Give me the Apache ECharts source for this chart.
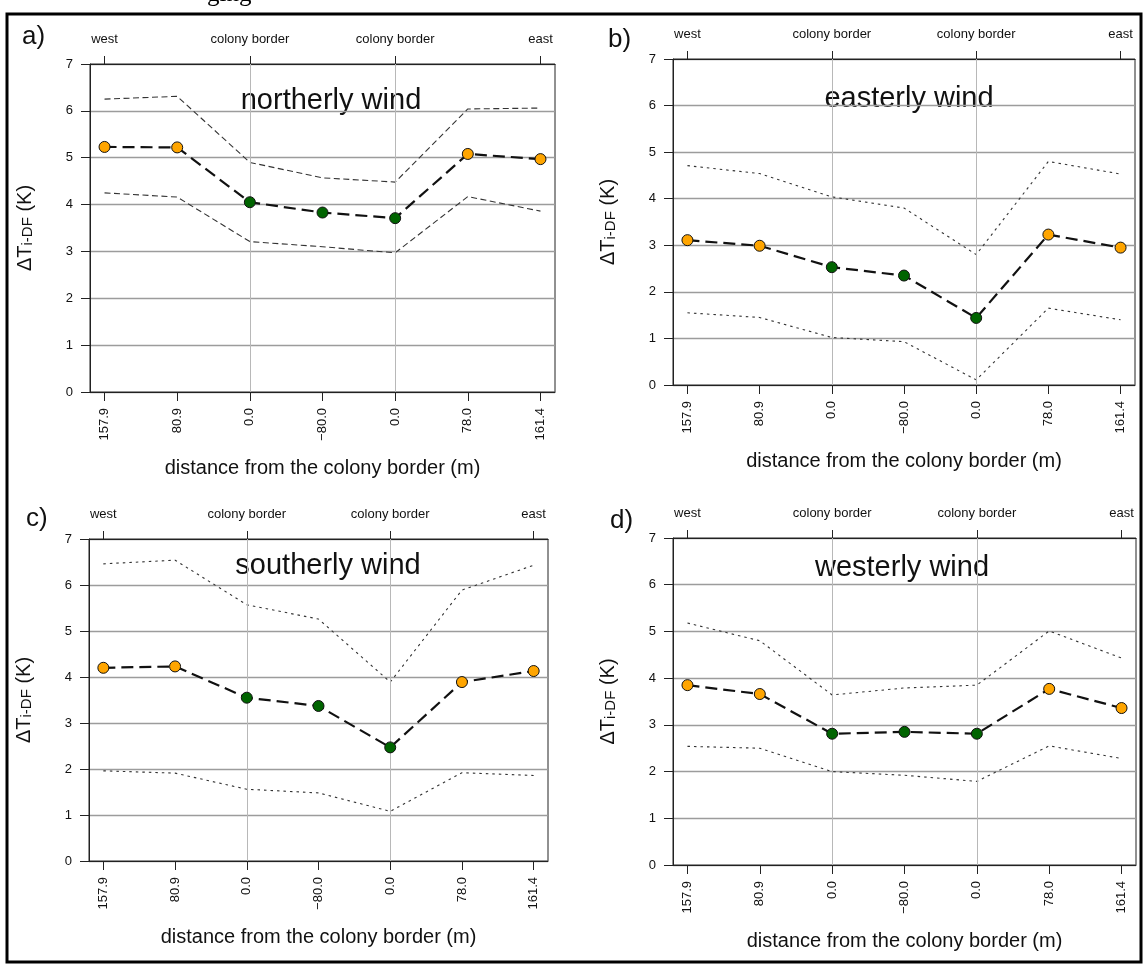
<!DOCTYPE html>
<html>
<head>
<meta charset="utf-8">
<script src="https://cdn.jsdelivr.net/npm/echarts@6/dist/echarts.min.js"></script>
<style>
  html, body { margin: 0; padding: 0; background: #fff; }
  #chart { width: 1143px; height: 968px; }
</style>
</head>
<body>
<div id="chart"></div>
<script>
// Transect positions: distance (m) from the colony border, west -> east
const distanceLabels = ['157.9', '80.9', '0.0', '\u221280.0', '0.0', '78.0', '161.4'];
const sideLabels = ['west', '', 'colony border', '', 'colony border', '', 'east'];
const insideColony = [false, false, true, true, true, false, false];

// Temperature difference ΔT i-DF (K): mean with upper / lower bounds
const northMean  = [5.23, 5.22, 4.05, 3.83, 3.71, 5.08, 4.97];
const northUpper = [6.25, 6.31, 4.90, 4.57, 4.48, 6.04, 6.06];
const northLower = [4.25, 4.16, 3.21, 3.10, 2.97, 4.17, 3.86];

const eastMean  = [3.11, 2.99, 2.53, 2.35, 1.44, 3.23, 2.95];
const eastUpper = [4.71, 4.54, 4.04, 3.80, 2.80, 4.80, 4.53];
const eastLower = [1.55, 1.45, 1.02, 0.93, 0.11, 1.65, 1.40];

const southMean  = [4.20, 4.23, 3.55, 3.37, 2.47, 3.89, 4.13];
const southUpper = [6.46, 6.54, 5.57, 5.26, 3.89, 5.89, 6.43];
const southLower = [1.96, 1.91, 1.56, 1.48, 1.08, 1.92, 1.86];

const westMean  = [3.85, 3.66, 2.81, 2.85, 2.81, 3.77, 3.36];
const westUpper = [5.18, 4.80, 3.64, 3.79, 3.85, 5.01, 4.43];
const westLower = [2.54, 2.50, 2.00, 1.92, 1.79, 2.55, 2.28];

const yTicks = [0, 1, 2, 3, 4, 5, 6, 7];

const panels = [
  { letter: 'a)', title: 'northerly wind', mean: northMean, upper: northUpper, lower: northLower, dash: [6, 3.5],
    grid: { left: 90, top: 64, width: 465, height: 328 }, titlePos: [331, 101], letterPos: [22, 37] },
  { letter: 'b)', title: 'easterly wind', mean: eastMean, upper: eastUpper, lower: eastLower, dash: [2.5, 4],
    grid: { left: 673, top: 59, width: 462, height: 326 }, titlePos: [909, 99], letterPos: [608, 40] },
  { letter: 'c)', title: 'southerly wind', mean: southMean, upper: southUpper, lower: southLower, dash: [2.5, 4],
    grid: { left: 89, top: 539, width: 459, height: 322 }, titlePos: [328, 566], letterPos: [26, 519] },
  { letter: 'd)', title: 'westerly wind', mean: westMean, upper: westUpper, lower: westLower, dash: [2.5, 4],
    grid: { left: 673, top: 538, width: 463, height: 327 }, titlePos: [902, 568], letterPos: [610, 521] }
];

const FONT = '"Liberation Sans", Arial, sans-serif';
const INK = '#111';
const positions = distanceLabels.map((_, i) => i);
const sideTicks = positions.filter(i => sideLabels[i] !== '');
const toPairs = arr => arr.map((v, i) => [i, v]);

const grids = [], xAxes = [], yAxes = [], series = [], graphics = [];

panels.forEach((p, k) => {
  grids.push(Object.assign({
    show: true, borderColor: '#222', borderWidth: 1, backgroundColor: 'transparent',
    containLabel: false, outerBoundsMode: 'none'
  }, p.grid));

  // bottom axis: distance labels
  xAxes.push({
    type: 'value', gridIndex: k, position: 'bottom', min: -0.2, max: 6.2,
    axisLine: { show: true, onZero: false, lineStyle: { color: '#222', width: 1 } },
    axisTick: { show: true, length: 9, customValues: positions, lineStyle: { color: '#222', width: 1 } },
    axisLabel: {
      show: true, customValues: positions, rotate: 90, margin: 16,
      formatter: v => distanceLabels[Math.round(v)],
      fontFamily: FONT, fontSize: 13, color: INK
    },
    splitLine: { show: false },
    name: 'distance from the colony border (m)', nameLocation: 'middle', nameGap: 66,
    nameTextStyle: { fontFamily: FONT, fontSize: 20, color: INK }
  });
  // top axis: west / colony border / east
  xAxes.push({
    type: 'value', gridIndex: k, position: 'top', min: -0.2, max: 6.2,
    axisLine: { show: true, onZero: false, lineStyle: { color: '#222', width: 1 } },
    axisTick: { show: true, length: 8, customValues: sideTicks, lineStyle: { color: '#222', width: 1 } },
    axisLabel: {
      show: true, customValues: sideTicks, margin: 18,
      formatter: v => sideLabels[Math.round(v)],
      fontFamily: FONT, fontSize: 13, color: INK
    },
    splitLine: { show: false }
  });

  yAxes.push({
    type: 'value', gridIndex: k, position: 'left', min: yTicks[0], max: yTicks[yTicks.length - 1], interval: 1,
    axisLine: { show: true, onZero: false, lineStyle: { color: '#222', width: 1 } },
    axisTick: { show: true, length: 9, lineStyle: { color: '#222', width: 1 } },
    axisLabel: { margin: 17, fontFamily: FONT, fontSize: 13, color: INK },
    splitLine: { show: true, lineStyle: { color: '#9c9c9c', width: 1.3 } },
    name: '{a|\u0394T}{s|i-DF}{a| (K)}', nameLocation: 'middle', nameRotate: 90, nameGap: 55,
    nameTextStyle: {
      fontFamily: FONT, color: INK,
      rich: {
        a: { fontFamily: FONT, fontSize: 20, color: INK, verticalAlign: 'bottom', lineHeight: 22 },
        s: { fontFamily: FONT, fontSize: 15, color: INK, verticalAlign: 'bottom', lineHeight: 22 }
      }
    }
  });

  const xi = k * 2, yi = k;
  // upper bound, carrying the colony-border reference lines
  series.push({
    type: 'line', xAxisIndex: xi, yAxisIndex: yi, data: toPairs(p.upper),
    symbol: 'none', silent: true, z: 2,
    lineStyle: { color: '#333', width: 1.1, type: p.dash },
    markLine: {
      silent: true, symbol: 'none', animation: false, label: { show: false },
      lineStyle: { color: '#b8b8b8', width: 1, type: 'solid' },
      data: [{ xAxis: 2 }, { xAxis: 4 }]
    }
  });
  // lower bound
  series.push({
    type: 'line', xAxisIndex: xi, yAxisIndex: yi, data: toPairs(p.lower),
    symbol: 'none', silent: true, z: 2,
    lineStyle: { color: '#333', width: 1.1, type: p.dash }
  });
  // mean
  series.push({
    type: 'line', xAxisIndex: xi, yAxisIndex: yi, data: toPairs(p.mean),
    symbol: 'circle', symbolSize: 11, showSymbol: true, z: 5,
    lineStyle: { color: '#111', width: 2.2, type: [12, 6] },
    itemStyle: {
      color: params => insideColony[params.dataIndex] ? '#006400' : '#FFA500',
      borderColor: '#111', borderWidth: 1
    }
  });

  graphics.push({
    type: 'text', x: p.titlePos[0], y: p.titlePos[1], silent: true,
    style: { text: p.title, font: '29px ' + FONT, fill: INK, align: 'center', verticalAlign: 'middle' }
  });
  graphics.push({
    type: 'text', x: p.letterPos[0], y: p.letterPos[1], silent: true,
    style: { text: p.letter, font: '26px ' + FONT, fill: INK, align: 'left', verticalAlign: 'middle' }
  });
});

// surrounding frame and the line of text running in from above
graphics.push({
  type: 'rect', silent: true, shape: { x: 7, y: 14, width: 1134, height: 948 },
  style: { fill: 'none', stroke: '#000', lineWidth: 3 }
});
graphics.push({
  type: 'text', x: 207, y: 7, silent: true,
  style: { text: 'ging', font: '25px "Liberation Serif", serif', fill: '#000', align: 'left', verticalAlign: 'bottom' }
});

const chart = echarts.init(document.getElementById('chart'), null, { renderer: 'canvas' });
chart.setOption({
  animation: false,
  backgroundColor: '#fff',
  grid: grids,
  xAxis: xAxes,
  yAxis: yAxes,
  series: series,
  graphic: graphics
});
</script>
</body>
</html>
